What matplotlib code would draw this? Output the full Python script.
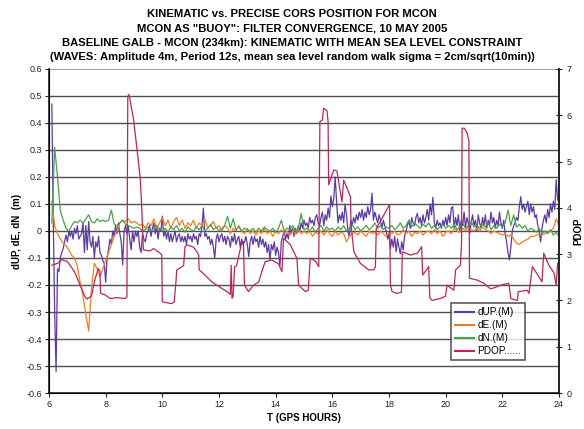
import numpy as np
import matplotlib.pyplot as plt

plt.rcParams['font.family'] = ['Liberation Sans', 'DejaVu Sans']

# dUP sampled every 0.05 h starting 6.10 h (one row per hour)
dup = [
    0.47, 0.05, -0.30, -0.52, -0.14, -0.15, -0.10, -0.08, -0.065, -0.04, -0.015, -0.04, 0.00, -0.02, 0.00, -0.03, 0.01, -0.01, 0.02, -0.03,
    -0.02, -0.01, 0.03, -0.08, 0.02, -0.07, 0.035, -0.04, -0.06, -0.02, -0.10, -0.04, -0.06, -0.02, -0.08, -0.09, -0.11, -0.12, -0.19, -0.10,
    -0.07, -0.03, -0.05, 0.00, -0.02, 0.02, -0.01, 0.03, -0.01, -0.04, -0.125, 0.00, 0.02, -0.01, 0.02, -0.03, -0.07, 0.00, -0.04, 0.00,
    -0.02, 0.00, -0.06, -0.08, -0.01, -0.03, -0.04, -0.01, 0.00, 0.02, -0.02, 0.01, 0.03, -0.01, 0.02, -0.03, 0.01, 0.00, 0.055, -0.02,
    0.00, -0.03, 0.00, -0.04, -0.01, -0.04, -0.02, 0.00, -0.04, -0.02, -0.01, -0.04, -0.02, -0.04, -0.02, -0.05, -0.01, -0.03, -0.02, -0.04,
    -0.01, -0.03, -0.02, -0.05, -0.01, -0.02, 0.02, 0.085, -0.02, -0.01, -0.03, -0.02, -0.05, -0.03, -0.06, -0.10, -0.03, -0.01, -0.04, -0.02,
    -0.01, -0.04, -0.02, -0.05, -0.02, -0.03, -0.06, -0.02, -0.04, -0.01, -0.05, -0.03, -0.02, -0.06, -0.03, -0.05, -0.04, -0.02, -0.05, -0.095,
    -0.04, -0.02, -0.05, -0.02, -0.04, -0.03, -0.06, -0.02, -0.05, -0.03, -0.06, -0.04, -0.08, -0.05, -0.107, -0.05, -0.07, -0.04, -0.09, -0.06,
    -0.08, -0.13, -0.04, -0.02, 0.00, -0.03, -0.01, -0.03, 0.02, -0.01, 0.01, -0.02, 0.01, -0.01, 0.02, 0.00, 0.03, 0.01, 0.04, 0.02,
    0.03, 0.01, 0.05, 0.03, 0.04, 0.02, 0.05, 0.06, 0.03, 0.02, 0.05, 0.07, 0.02, 0.06, 0.04, 0.085, 0.05, 0.13, 0.09, 0.12,
    0.20, 0.11, 0.03, 0.06, 0.04, 0.07, 0.03, 0.10, 0.06, 0.00, -0.02, 0.04, 0.02, 0.05, 0.03, 0.06, 0.04, 0.07, 0.05, 0.08,
    0.04, 0.07, 0.05, 0.09, 0.06, 0.08, 0.14, 0.04, 0.07, 0.05, 0.03, 0.06, 0.04, 0.01, 0.04, 0.02, 0.00, -0.03, -0.01, -0.065,
    -0.03, -0.06, -0.02, -0.077, -0.03, -0.06, -0.085, -0.04, -0.07, -0.02, 0.00, 0.02, 0.04, 0.01, 0.05, 0.03, 0.02, 0.05, 0.065, 0.03,
    0.05, 0.02, 0.06, 0.03, 0.05, 0.08, 0.04, 0.10, 0.06, 0.125, 0.03, 0.01, 0.04, 0.02, 0.03, 0.01, 0.04, 0.02, 0.05, 0.02,
    0.06, 0.03, 0.085, 0.09, 0.01, 0.05, 0.02, 0.06, 0.00, 0.04, 0.02, 0.07, 0.01, 0.05, 0.03, -0.01, 0.03, 0.06, 0.02, 0.04,
    0.00, 0.06, 0.03, 0.01, 0.05, 0.02, 0.06, 0.01, 0.04, 0.02, 0.07, 0.03, 0.05, 0.01, 0.04, 0.02, 0.07, 0.03, 0.01, 0.04,
    -0.01, -0.04, -0.08, -0.107, -0.06, 0.00, 0.02, 0.03, 0.05, 0.04, 0.09, 0.127, 0.08, 0.10, 0.07, 0.09, 0.11, 0.06, 0.10, 0.07,
    0.09, 0.05, 0.06, 0.02, 0.00, -0.04, 0.01, 0.04, 0.06, 0.03, 0.08, 0.05, 0.10, 0.07, 0.11, 0.08, 0.19, 0.12, 0.10,
]

# dE and dN sampled every 0.1 h starting 6.1 h
de = [
    0.11, 0.02, -0.01, -0.03, -0.045, -0.055, -0.07, -0.09, -0.10, -0.13,
    -0.19, -0.24, -0.31, -0.37, -0.21, -0.12, -0.14, -0.17, -0.14, -0.11,
    -0.08, -0.05, -0.02, 0.00, 0.03, 0.04, 0.035, 0.045, 0.03, 0.035,
    0.03, 0.02, 0.025, 0.01, 0.03, 0.02, 0.045, 0.01, 0.03, 0.05,
    0.02, 0.04, 0.01, 0.035, 0.05, 0.02, 0.04, 0.01, 0.03, 0.02,
    0.04, 0.01, 0.03, 0.02, 0.045, 0.01, 0.02, 0.035, 0.01, 0.02,
    0.00, 0.02, 0.01, -0.01, 0.01, 0.00, 0.02, 0.00, -0.01, 0.01,
    -0.01, 0.00, -0.015, 0.00, -0.01, 0.01, -0.01, 0.00, -0.02, 0.00,
    -0.01, 0.005, -0.01, 0.00, -0.015, 0.00, -0.01, 0.005, -0.01, 0.00,
    -0.01, 0.00, -0.02, -0.005, -0.01, 0.00, -0.015, 0.005, -0.01, -0.02,
    0.00, -0.015, -0.005, -0.01, -0.04, -0.02, -0.01, -0.005, -0.015, 0.00,
    -0.01, -0.02, 0.00, -0.01, -0.005, -0.015, 0.00, -0.01, -0.02, -0.005,
    -0.01, 0.00, -0.015, -0.01, 0.005, -0.01, 0.00, -0.02, -0.005, -0.01,
    0.00, -0.015, -0.005, 0.00, -0.01, 0.005, -0.01, 0.00, -0.02, -0.005,
    0.00, -0.01, 0.01, 0.00, -0.005, 0.01, 0.00, 0.015, 0.005, 0.00,
    0.01, 0.00, 0.015, 0.005, 0.00, -0.01, 0.00, -0.005, -0.01, -0.015,
    -0.01, -0.02, -0.015, -0.03, -0.045, -0.05, -0.04, -0.035, -0.03, -0.02,
    -0.02, -0.015, -0.01, -0.015, -0.01, -0.005, 0.00, 0.01, 0.045, 0.02,
]

dn = [
    0.03, 0.31, 0.20, 0.075, 0.04, 0.01, 0.00, 0.02, 0.035, 0.03,
    0.04, 0.03, 0.045, 0.06, 0.035, 0.03, 0.045, 0.035, 0.04, 0.035,
    0.04, 0.078, 0.025, 0.02, 0.03, 0.04, 0.025, 0.02, 0.015, 0.01,
    0.015, 0.01, 0.00, 0.005, 0.015, 0.00, 0.01, 0.02, 0.005, 0.00,
    0.01, -0.005, 0.015, 0.005, 0.02, 0.00, 0.01, -0.005, 0.015, 0.005,
    0.00, 0.015, 0.005, 0.02, 0.00, 0.01, 0.025, 0.005, 0.015, 0.00,
    0.01, 0.02, 0.055, 0.01, 0.045, 0.005, 0.015, 0.00, 0.01, 0.005,
    0.00, 0.01, -0.005, 0.01, 0.00, 0.015, 0.005, 0.00, 0.01, -0.005,
    0.01, 0.04, 0.00, 0.01, 0.005, 0.02, 0.00, 0.01, 0.065, 0.005,
    0.01, 0.00, 0.015, -0.005, 0.01, 0.02, 0.00, 0.015, 0.005, 0.01,
    0.00, 0.015, 0.005, 0.02, 0.00, 0.01, 0.025, 0.005, 0.015, 0.00,
    0.01, 0.02, 0.005, 0.015, 0.03, 0.01, 0.02, 0.005, 0.015, 0.01,
    0.02, 0.005, 0.015, 0.03, 0.01, 0.02, 0.04, 0.015, 0.03, 0.02,
    0.01, 0.025, 0.015, 0.03, 0.01, 0.02, 0.005, 0.015, 0.025, 0.01,
    0.02, 0.01, 0.025, 0.005, 0.015, 0.03, 0.01, 0.02, 0.035, 0.015,
    0.02, 0.01, 0.025, 0.015, 0.03, 0.005, 0.02, 0.01, 0.025, 0.015,
    0.03, 0.078, 0.02, 0.06, 0.015, 0.025, 0.01, 0.02, 0.00, 0.01,
    0.005, -0.005, 0.01, -0.01, 0.00, -0.01, 0.005, -0.015, -0.005, -0.02,
]

# PDOP breakpoints (hours, PDOP)
pdop_t = [6.10, 6.30, 6.45, 6.65, 6.90, 7.10, 7.27, 7.35, 7.50, 7.62, 7.74, 7.80, 7.82, 7.98, 8.16, 8.40, 8.69, 8.75,
          8.78, 8.82, 8.98, 9.10, 9.22, 9.28, 9.33, 9.57, 9.69, 9.92, 9.98, 10.00, 10.16, 10.33, 10.42, 10.48, 10.51,
          10.75, 10.80, 10.87, 11.10, 11.22, 11.28, 11.30, 11.45, 11.75, 11.92, 12.28, 12.40, 12.43, 12.46, 12.50,
          12.55, 12.62, 12.81, 12.86, 12.90, 13.04, 13.22, 13.40, 13.51, 13.63, 13.87, 14.10, 14.22, 14.28, 14.52,
          14.75, 14.81, 15.05, 15.15, 15.22, 15.40, 15.52, 15.56, 15.65, 15.69, 15.81, 15.85, 15.87, 16.05, 16.16,
          16.34, 16.40, 16.64, 16.66, 16.76, 16.99, 17.28, 17.46, 17.52, 17.55, 18.02, 18.05, 18.11, 18.28, 18.44,
          18.47, 18.76, 19.00, 19.15, 19.19, 19.40, 19.44, 19.52, 19.80, 19.99, 20.05, 20.29, 20.35, 20.52, 20.56,
          20.58, 20.66, 20.76, 20.82, 20.84, 21.11, 21.35, 21.58, 21.75, 21.94, 22.23, 22.30, 22.53, 22.56, 22.88,
          22.94, 23.06, 23.25, 23.40, 23.46, 23.64, 23.82, 23.90, 23.95, 24.00]
pdop = [2.76, 2.80, 2.88, 2.84, 2.62, 2.33, 2.08, 2.03, 2.10, 2.45, 2.69, 2.62, 2.15, 2.12, 2.04, 2.06, 2.04, 2.08,
        6.40, 6.45, 5.93, 5.30, 4.64, 3.92, 3.09, 3.07, 3.12, 3.02, 2.98, 1.97, 1.95, 1.93, 1.97, 2.40, 2.66,
        2.75, 3.16, 3.20, 3.15, 3.05, 2.98, 2.66, 2.58, 2.40, 2.33, 2.19, 2.13, 2.76, 2.05, 2.10,
        2.73, 2.75, 3.27, 3.27, 2.33, 2.19, 2.33, 2.40, 2.62, 2.84, 2.87, 2.79, 2.62, 3.34, 3.20,
        2.91, 2.33, 2.19, 2.22, 2.91, 2.85, 2.73, 5.86, 5.90, 6.15, 6.10, 5.86, 4.50, 4.82, 4.80,
        4.13, 4.60, 4.24, 3.63, 3.05, 2.80, 2.66, 2.66, 2.73, 3.55, 4.07, 2.33, 2.19, 2.15, 2.18,
        3.05, 2.98, 3.02, 3.16, 2.55, 2.73, 2.06, 2.00, 2.04, 2.09, 2.33, 2.22, 2.66, 2.76, 3.23,
        5.72, 5.72, 5.61, 5.45, 2.48, 2.44, 2.37, 2.25, 2.28, 2.33, 2.37, 2.04, 2.00, 2.19, 2.22,
        2.15, 2.73, 2.55, 2.40, 3.02, 2.76, 2.60, 2.33, 2.80, 2.80]

t_up = 6.10 + 0.05 * np.arange(len(dup))
t_en = 6.1 + 0.1 * np.arange(len(de))

c_up = '#5b3aa6'
c_e = '#f57c22'
c_n = '#4aa34a'
c_p = '#c0245a'

fig = plt.figure(figsize=(5.84, 4.29), dpi=100)
ax = fig.add_axes([0.0839, 0.0839, 0.8733, 0.7553])

# horizontal grid every 0.1 m
for yv in np.arange(-0.5, 0.55, 0.1):
    ax.axhline(yv, color='#505050', lw=1.0, zorder=0)
ax.axhline(0.6, color='#a08a80', lw=1.2, zorder=0)

l1, = ax.plot(t_up, dup, color=c_up, lw=0.9, label='dUP.(M)')
l2, = ax.plot(t_en, de, color=c_e, lw=0.9, label='dE.(M)')
l3, = ax.plot(t_en, dn, color=c_n, lw=0.9, label='dN.(M)')

ax.set_xlim(6, 24)
ax.set_ylim(-0.6, 0.6)
ax.set_xticks(np.arange(6, 25, 2))
ax.set_yticks(np.round(np.arange(-0.6, 0.61, 0.1), 1))
ax.set_yticklabels(['-0.6', '-0.5', '-0.4', '-0.3', '-0.2', '-0.1', '0',
                    '0.1', '0.2', '0.3', '0.4', '0.5', '0.6'])
ax.tick_params(labelsize=6.5, length=3, width=0.8, colors='#222222', pad=2)
ax.spines['top'].set_visible(False)
for s in ['left', 'bottom', 'right']:
    ax.spines[s].set_linewidth(1.2)
    ax.spines[s].set_color('#222222')
ax.set_xlabel('T (GPS HOURS)', fontsize=7, fontweight='bold', labelpad=3)
ax.set_ylabel('dUP, dE, dN  (m)', fontsize=7, fontweight='bold', labelpad=3)

ax2 = ax.twinx()
l4, = ax2.plot(pdop_t, pdop, color=c_p, lw=0.9, label='PDOP......')
ax2.set_ylim(0, 7)
ax2.set_yticks(range(0, 8))
ax2.tick_params(labelsize=6.5, length=5, width=0.8, direction='inout', colors='#222222', pad=3)
ax2.spines['top'].set_visible(False)
ax2.spines['right'].set_linewidth(1.2)
ax2.spines['right'].set_color('#222222')
ax2.set_ylabel('PDOP', fontsize=7, fontweight='bold', labelpad=1)

leg = ax2.legend(handles=[l1, l2, l3, l4], loc='upper right', bbox_to_anchor=(0.943, 0.292),
                 fontsize=7.2, frameon=True, fancybox=False, borderpad=0.4,
                 handlelength=1.9, handletextpad=0.3, labelspacing=0.3)
leg.get_frame().set_edgecolor('#333333')
leg.get_frame().set_linewidth(1.2)
for h in leg.get_lines():
    h.set_linewidth(1.5)

fig.text(0.5, 0.98, 'KINEMATIC vs. PRECISE CORS POSITION FOR MCON\n'
         'MCON AS "BUOY": FILTER CONVERGENCE, 10 MAY 2005\n'
         'BASELINE GALB - MCON (234km): KINEMATIC WITH MEAN SEA LEVEL CONSTRAINT\n'
         '(WAVES: Amplitude 4m, Period 12s, mean sea level random walk sigma = 2cm/sqrt(10min))',
         ha='center', va='top', fontsize=8.15, fontweight='bold', linespacing=1.58)

fig.savefig('out.png', dpi=100)
